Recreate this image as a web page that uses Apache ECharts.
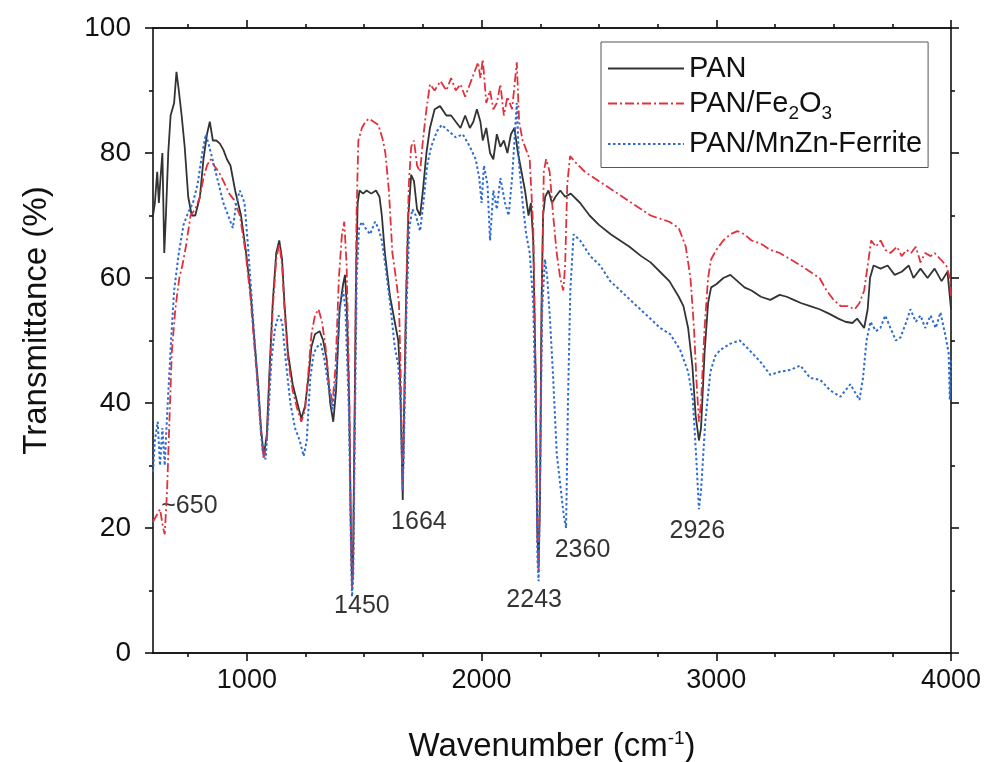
<!DOCTYPE html>
<html>
<head>
<meta charset="utf-8">
<title>FTIR</title>
<script src="https://cdn.jsdelivr.net/npm/echarts@6/dist/echarts.min.js"></script>
<style>
  html, body { margin: 0; padding: 0; background: #fff; }
  #chart { width: 990px; height: 762px; }
</style>
</head>
<body>
<div id="chart"></div>
<script>
// [wavenumber (cm-1), transmittance (%)]
var panData = [
  [600,70],[608,72],[618,77],[625,72],[632,76],[640,80],[648,64],[655,70],[665,80],[675,86],[690,88],[700,93],
  [710,90],[722,86],[735,81],[750,73],[765,70],[780,70],[800,73],[815,79],[830,83],[842,85],[855,82],[870,82],
  [885,81.5],[900,80.5],[915,79],[930,78],[950,74],[975,70],[995,64.5],[1015,58],[1030,51],[1048,43],[1060,36],
  [1072,31.5],[1085,35],[1095,44],[1110,56],[1125,64],[1138,66],[1150,63],[1160,56],[1175,48],[1195,43],[1215,40],
  [1232,37.5],[1248,39.5],[1262,44],[1275,49],[1290,51],[1310,51.5],[1325,50],[1340,47],[1355,40],[1368,37],
  [1380,42],[1395,55],[1410,59],[1418,60.5],[1425,56],[1436,40],[1443,20],[1448,11],[1452,13],[1458,35],[1465,60],
  [1472,72],[1480,74],[1495,73.5],[1510,74],[1530,73.5],[1550,74],[1565,73],[1575,70],[1588,64],[1610,57],
  [1630,53],[1645,50],[1652,45],[1658,35],[1664,24.5],[1668,35],[1678,56],[1688,70],[1700,76.5],[1712,75.5],
  [1725,71],[1738,70],[1750,74],[1765,80],[1780,84],[1800,87],[1823,87.5],[1850,86],[1870,86],[1890,85],[1910,84],
  [1930,86],[1950,84],[1965,85],[1980,87],[1995,85],[2005,82],[2020,84],[2036,80],[2050,79],[2065,83],[2080,81],
  [2095,82],[2110,80],[2125,83],[2140,84],[2155,80],[2170,77],[2185,74],[2200,70],[2210,72],[2220,66],[2230,45],
  [2237,20],[2243,14],[2249,25],[2255,55],[2262,70],[2271,73],[2285,74],[2300,72],[2315,73],[2335,74],[2356,73],
  [2380,73.5],[2420,72],[2460,70],[2500,68.5],[2550,67],[2590,66],[2630,65],[2680,63.5],[2720,62.5],[2760,61],
  [2800,59.5],[2840,57],[2860,55.5],[2880,52],[2898,46],[2912,38],[2926,34],[2935,36],[2950,48],[2965,56],
  [2978,58.5],[3000,59],[3030,60],[3060,60.5],[3090,59.5],[3120,58.5],[3150,58],[3190,57],[3230,56.5],[3270,57.3],
  [3300,57],[3330,56.5],[3360,56],[3400,55.5],[3440,55],[3480,54.3],[3520,53.5],[3550,53],[3580,52.8],[3600,53.5],
  [3630,52],[3645,55],[3655,60],[3670,62],[3700,61.5],[3730,62],[3760,60.5],[3790,61],[3820,62],[3840,60],
  [3870,61.5],[3900,60],[3930,61.5],[3960,59.5],[3985,61],[3995,57],[4000,55]
];

var feData = [
  [600,21],[615,22],[630,23],[643,20],[650,19],[660,26],[668,35],[680,48],[695,55],[712,60],[725,62],[740,65],
  [760,70],[780,71],[800,73],[815,76],[830,78],[845,79],[860,78],[880,77],[900,75.5],[925,73.5],[945,72.5],
  [970,70],[995,64],[1015,57],[1030,50],[1048,42],[1060,35],[1072,31],[1085,34],[1095,43],[1110,55],[1125,63],
  [1138,65.5],[1150,62],[1160,55],[1175,47],[1195,42],[1215,39],[1232,37],[1248,39],[1262,45],[1275,51],[1290,54],
  [1305,55],[1320,53],[1335,49],[1350,43],[1365,40],[1378,46],[1392,60],[1405,67],[1415,69],[1425,62],[1436,42],
  [1443,20],[1448,10],[1453,14],[1460,40],[1467,70],[1475,82],[1490,84],[1505,85],[1520,85.5],[1540,85],[1560,84.5],
  [1580,82],[1590,80],[1605,74],[1620,64],[1635,60],[1648,56],[1655,45],[1664,26],[1670,38],[1680,60],[1690,75],
  [1700,81],[1712,82],[1725,78],[1738,77],[1750,82],[1765,87],[1780,91],[1800,90],[1825,91.5],[1850,90],[1870,92],
  [1890,90],[1910,91],[1930,89],[1950,91],[1970,93],[1985,94.5],[1995,92],[2005,95],[2020,88],[2036,90],[2050,87],
  [2065,88],[2080,91],[2095,86],[2110,89],[2130,87],[2150,94.5],[2160,85],[2175,82],[2190,80.5],[2205,79],[2220,68],
  [2232,40],[2238,18],[2243,13],[2250,30],[2258,60],[2265,77],[2275,79],[2290,77],[2305,70],[2320,64],[2335,60],
  [2348,58],[2356,62],[2365,75],[2377,79.5],[2400,78.5],[2440,77],[2480,76],[2520,75],[2560,74],[2600,73],
  [2640,72],[2680,71],[2720,70],[2760,69.5],[2800,69],[2840,68],[2870,65],[2890,60],[2905,52],[2915,44],[2926,37],
  [2935,40],[2950,52],[2965,60],[2978,63],[3000,64.5],[3030,66],[3060,67],[3090,67.5],[3120,67],[3150,66],
  [3190,65.5],[3230,64.5],[3270,64],[3316,63],[3360,62],[3400,61],[3440,60],[3470,58],[3500,56.5],[3530,55.5],
  [3560,55.5],[3590,55],[3610,56],[3630,58],[3645,62],[3660,66],[3680,65],[3700,66],[3720,64.5],[3742,64],
  [3770,65],[3790,63.5],[3810,64.5],[3830,64],[3850,65],[3870,62.5],[3890,64],[3913,63.5],[3930,64],[3955,63],
  [3980,62],[3995,60],[4000,57]
];

var mnznData = [
  [600,29],[608,34],[620,37],[630,30],[640,36],[650,30],[660,38],[670,45],[680,52],[690,58],[710,64],[730,68.5],
  [750,70.5],[770,72],[790,75],[810,80],[825,83],[840,81],[860,78],[880,75],[900,72],[920,70],[940,68],[955,72],
  [970,74],[990,72],[1005,65],[1020,57],[1040,46],[1055,38],[1068,32],[1080,31],[1090,37],[1105,47],[1120,52],
  [1135,54],[1150,53],[1165,47],[1185,40],[1205,36],[1225,34],[1242,31.5],[1255,34],[1270,44],[1285,48],[1300,49],
  [1315,49.5],[1330,47],[1350,42],[1365,39],[1380,44],[1395,55],[1410,58],[1420,55],[1435,38],[1443,18],[1448,9],
  [1453,12],[1460,35],[1468,60],[1478,68],[1490,69],[1505,68],[1525,67],[1546,69],[1560,68],[1575,66],[1590,62],
  [1610,56],[1630,49],[1645,46],[1655,40],[1664,26],[1670,35],[1680,55],[1692,68],[1705,71],[1720,70],[1738,67.5],
  [1752,72],[1768,78],[1785,81],[1810,83.5],[1830,84.5],[1860,83.5],[1890,82.5],[1920,83],[1950,81],[1975,79],
  [1990,76],[2000,72],[2010,78],[2025,75],[2036,66],[2050,74],[2065,71],[2080,76],[2100,72],[2115,70],[2130,76],
  [2150,88],[2160,78],[2175,72],[2190,67],[2205,64],[2220,56],[2232,35],[2238,15],[2243,11.5],[2249,28],[2258,55],
  [2270,63],[2280,60],[2292,53],[2305,44],[2320,32],[2335,27],[2350,22],[2360,20],[2368,40],[2378,58],[2392,67],
  [2420,66],[2463,63.5],[2505,62],[2548,59.5],[2591,58],[2633,56.5],[2676,55],[2719,53.5],[2761,52],[2804,51],
  [2846,48.5],[2880,45],[2900,40.5],[2915,31],[2926,23],[2935,26],[2953,37],[2975,45],[2995,47.5],[3017,48.5],
  [3060,49.5],[3100,50],[3140,48.5],[3190,46.5],[3230,44.5],[3270,45],[3316,45.3],[3358,46],[3400,44],[3443,43.7],
  [3486,42],[3529,41],[3571,43],[3610,40.5],[3625,44],[3640,50],[3657,53],[3680,51.5],[3699,52],[3720,54],
  [3742,52],[3765,50],[3785,50.5],[3810,53],[3827,55],[3850,53],[3870,54],[3890,52],[3913,54],[3935,52],
  [3955,54.5],[3975,51],[3990,48],[3995,40.5],[4000,47]
];

// peak annotations: text and where it sits
var peakNames = ['~650', '1450', '1664', '2243', '2360', '2926'];
var peakSpots = [[755, 23.5], [1490, 7.5], [1733, 21], [2224, 8.5], [2430, 16.5], [2919, 19.5]];

var xMajor = [1000, 2000, 3000, 4000];
var xMinor = [750, 1250, 1500, 1750, 2250, 2500, 2750, 3250, 3500, 3750];

var FONT = 'Arial, "Liberation Sans", sans-serif';
var AXIS_COLOR = '#111';

var chart = echarts.init(document.getElementById('chart'));

function xAxisFor(pos, ticks, len, withLabels) {
  return {
    type: 'value',
    position: pos,
    min: 600,
    max: 4000,
    axisLine: { show: withLabels !== null, lineStyle: { color: AXIS_COLOR, width: 1.6 } },
    axisTick: { show: true, customValues: ticks, length: len, lineStyle: { color: AXIS_COLOR, width: 1.6 } },
    axisLabel: withLabels
      ? { show: true, customValues: xMajor, margin: 14, fontSize: 27, color: '#111', fontFamily: FONT,
          formatter: function (v) { return String(v); } }
      : { show: false },
    splitLine: { show: false }
  };
}

var bottomMain = xAxisFor('bottom', xMajor, 8, true);
bottomMain.name = '{n|Wavenumber (cm}{s|-1}{n|)}';
bottomMain.nameLocation = 'middle';
bottomMain.nameGap = 76;
bottomMain.nameTextStyle = {
  rich: {
    n: { fontSize: 33, fontFamily: FONT, color: '#111', lineHeight: 36 },
    s: { fontSize: 19, fontFamily: FONT, color: '#111', verticalAlign: 'top', lineHeight: 36 }
  }
};

var option = {
  backgroundColor: '#fff',
  animation: false,
  grid: { left: 153, right: 39, top: 28, bottom: 109, outerBoundsMode: 'none', containLabel: false },
  legend: {
    orient: 'vertical',
    left: 601,
    top: 42,
    padding: [12, 6, 9, 6],
    itemWidth: 76,
    itemHeight: 24,
    itemGap: 6,
    borderColor: '#555',
    borderWidth: 1,
    itemStyle: { opacity: 0 },
    data: ['PAN', 'PAN/Fe2O3', 'PAN/MnZn-Ferrite'],
    formatter: function (name) {
      if (name === 'PAN/Fe2O3') return '{a|PAN/Fe}{b|2}{a|O}{b|3}';
      return '{a|' + name + '}';
    },
    textStyle: {
      rich: {
        a: { fontSize: 29, fontFamily: FONT, color: '#111', lineHeight: 28 },
        b: { fontSize: 19, fontFamily: FONT, color: '#111', verticalAlign: 'bottom', lineHeight: 28, padding: [0, 0, -6, 0] }
      }
    }
  },
  xAxis: [
    bottomMain,
    xAxisFor('bottom', xMinor, 4, false),
    xAxisFor('top', xMajor, 8, false),
    xAxisFor('top', xMinor, 4, false)
  ],
  yAxis: [
    {
      type: 'value',
      position: 'left',
      min: 0,
      max: 100,
      interval: 20,
      name: 'Transmittance (%)',
      nameLocation: 'middle',
      nameGap: 100,
      nameTextStyle: { fontSize: 33, fontFamily: FONT, color: '#111', padding: [0, 0, 0, 40] },
      axisLine: { show: true, lineStyle: { color: AXIS_COLOR, width: 1.6 } },
      axisTick: { show: true, length: 8, lineStyle: { color: AXIS_COLOR, width: 1.6 } },
      minorTick: { show: true, splitNumber: 2, length: 4, lineStyle: { color: AXIS_COLOR, width: 1.6 } },
      axisLabel: { margin: 22, fontSize: 28, color: '#111', fontFamily: FONT },
      splitLine: { show: false }
    },
    {
      type: 'value',
      position: 'right',
      min: 0,
      max: 100,
      interval: 20,
      axisLine: { show: true, lineStyle: { color: AXIS_COLOR, width: 1.6 } },
      axisTick: { show: true, length: 8, lineStyle: { color: AXIS_COLOR, width: 1.6 } },
      minorTick: { show: true, splitNumber: 2, length: 4, lineStyle: { color: AXIS_COLOR, width: 1.6 } },
      axisLabel: { show: false },
      splitLine: { show: false }
    }
  ],
  series: [
    {
      name: 'PAN',
      type: 'line',
      data: panData,
      symbol: 'none',
      lineStyle: { color: '#333', width: 1.8 },
      itemStyle: { color: '#333' }
    },
    {
      name: 'PAN/Fe2O3',
      type: 'line',
      data: feData,
      symbol: 'none',
      lineStyle: { color: '#e0323c', width: 1.8, type: [9, 3, 2, 3] },
      itemStyle: { color: '#e0323c' }
    },
    {
      name: 'PAN/MnZn-Ferrite',
      type: 'line',
      data: mnznData,
      symbol: 'none',
      lineStyle: { color: '#2b6bd2', width: 2, type: [2.5, 2.5] },
      itemStyle: { color: '#2b6bd2' }
    },
    {
      name: 'peaks',
      type: 'scatter',
      symbolSize: 0,
      silent: true,
      data: peakNames.map(function (n, i) { return { name: n, value: peakSpots[i] }; }),
      label: {
        show: true,
        position: 'inside',
        formatter: '{b}',
        fontSize: 25,
        fontFamily: FONT,
        color: '#000'
      }
    }
  ]
};

chart.setOption(option);
</script>
</body>
</html>
